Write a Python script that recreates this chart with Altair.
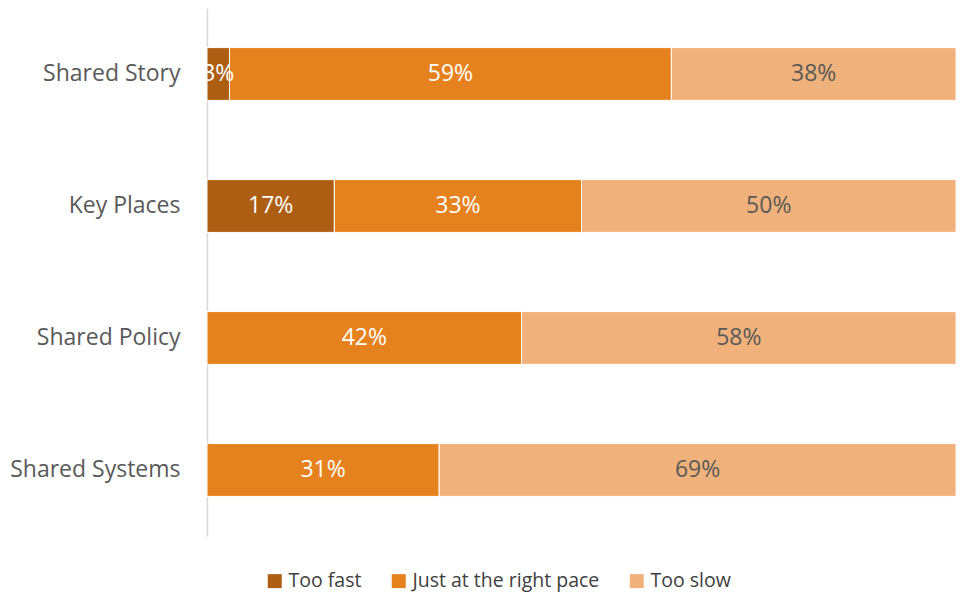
import altair as alt
import pandas as pd

categories = ["Shared Story", "Key Places", "Shared Policy", "Shared Systems"]
responses = ["Too fast", "Just at the right pace", "Too slow"]
too_fast = [3, 17, 0, 0]
right_pace = [59, 33, 42, 31]
too_slow = [38, 50, 58, 69]
colors = ["#AD5E12", "#E6821E", "#F0B27A"]
text_colors = ["#FFFFFF", "#FFFFFF", "#595959"]

rows = []
for i, c in enumerate(categories):
    for j, (r, vals) in enumerate(zip(responses, [too_fast, right_pace, too_slow])):
        if vals[i] > 0:
            rows.append({"category": c, "response": r, "value": vals[i], "order": j})
df = pd.DataFrame(rows)

FONT = "Open Sans"

base = alt.Chart(df).transform_stack(
    stack="value", groupby=["category"], as_=["x0", "x1"],
    sort=[alt.SortField("order", order="ascending")]
).transform_calculate(
    mid="(datum.x0 + datum.x1) / 2", label="datum.value + '%'"
)

yenc = alt.Y(
    "category:N", sort=categories, title=None,
    scale=alt.Scale(paddingInner=0.6, paddingOuter=0.3),
    axis=alt.Axis(labelFont=FONT, labelFontSize=23, labelColor="#595959",
                  labelPadding=27, ticks=False, tickSize=0, labelLimit=300,
                  domainColor="#D9D9D9", domainWidth=1.5, grid=False),
)

bars = base.mark_bar(stroke="#FFFFFF", strokeWidth=1).encode(
    x=alt.X("x0:Q", scale=alt.Scale(domain=[0, 100], nice=False), axis=None),
    x2="x1:Q",
    y=yenc,
    color=alt.Color(
        "response:N", sort=responses,
        scale=alt.Scale(domain=responses, range=colors),
        legend=alt.Legend(
            title=None, orient="none", direction="horizontal",
            legendX=58, legendY=563,
            symbolType="square", symbolSize=196, symbolStrokeWidth=0,
            labelFont=FONT, labelFontSize=19.5, labelColor="#404040",
            labelLimit=400, columnPadding=27, labelOffset=4,
        ),
    ),
)

text = base.mark_text(font=FONT, fontSize=23).encode(
    x=alt.X("mid:Q", scale=alt.Scale(domain=[0, 100], nice=False), axis=None),
    y=alt.Y("category:N", sort=categories),
    text="label:N",
    color=alt.Color("response:N", scale=alt.Scale(domain=responses, range=text_colors), legend=None),
)

chart = alt.layer(bars, text).resolve_scale(color="independent").properties(
    width=749, height=528,
    autosize=alt.AutoSizeParams(type="none"),
    padding={"left": 199, "top": 0, "right": 0, "bottom": 58},
).configure_view(stroke=None)

chart.save("out.html", embed_options={"renderer": "svg", "actions": False})
